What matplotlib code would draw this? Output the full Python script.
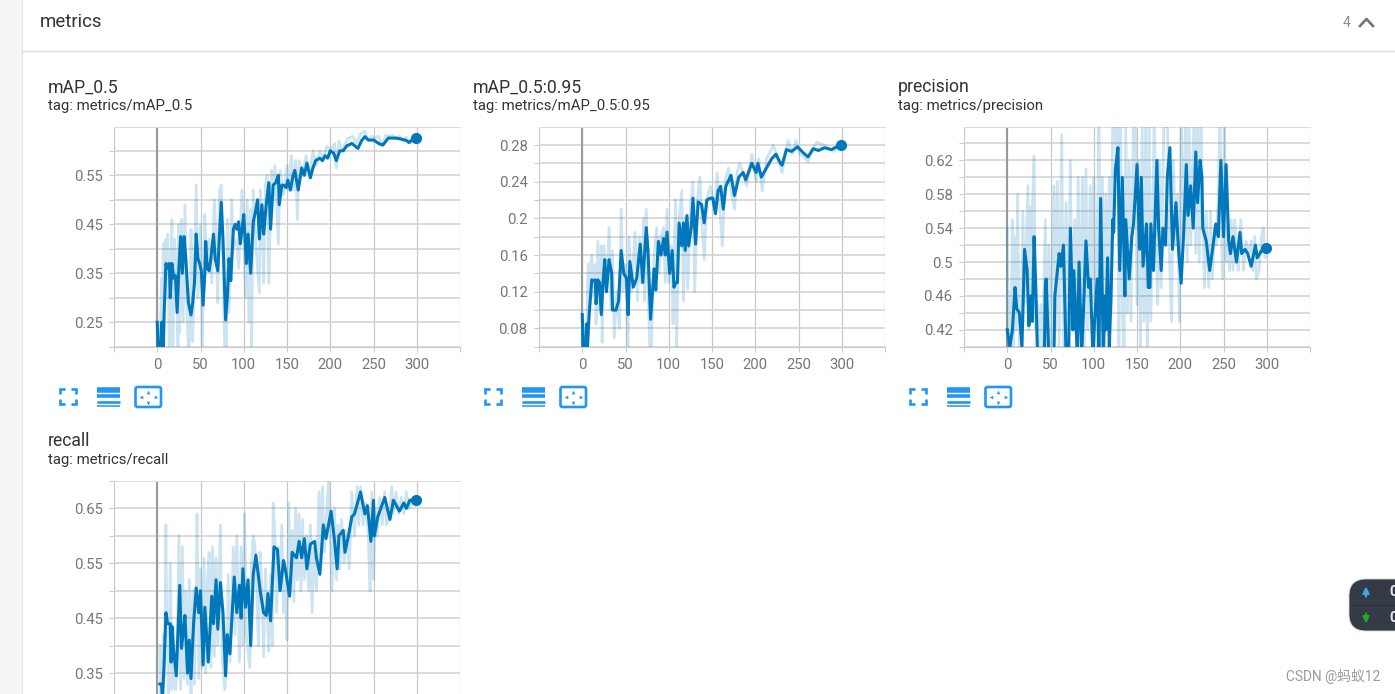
import matplotlib
matplotlib.use("Agg")
import matplotlib.pyplot as plt
from matplotlib.patches import FancyBboxPatch, Rectangle

plt.rcParams['font.family'] = ['Roboto', 'Noto Sans CJK SC', 'DejaVu Sans']

LINE = '#0077bb'
TEXT = '#333333'
W, H = 1395, 694

# metrics/mAP_0.5
map50_steps = [0,1,4,5,6,7,8,10,12,14,15,17,19,21,23,25,27,29,31,33,36,39,41,43,45,47,49,51,53,55,56,58,60,62,65,67,70,72,74,76,79,81,83,85,88,90,92,94,96,98,100,103,105,108,111,114,116,118,121,123,126,129,131,134,137,140,141,144,146,149,151,154,157,159,163,167,170,173,177,180,183,188,191,194,197,200,204,207,211,215,219,225,232,236,240,244,250,257,261,267,272,276,282,288,291,295,299]
map50_smooth = [.25,.195,.195,.25,.25,.195,.27,.37,.36,.37,.30,.37,.34,.345,.27,.36,.425,.35,.425,.38,.29,.265,.29,.33,.43,.38,.37,.355,.285,.35,.415,.36,.355,.38,.43,.38,.355,.43,.495,.42,.255,.30,.38,.335,.44,.45,.44,.455,.41,.44,.47,.37,.43,.35,.455,.48,.50,.42,.49,.43,.49,.535,.44,.53,.535,.55,.49,.53,.53,.525,.54,.52,.55,.56,.52,.565,.55,.575,.545,.565,.58,.585,.58,.59,.585,.60,.595,.58,.60,.60,.61,.615,.605,.62,.629,.622,.622,.614,.612,.626,.626,.626,.624,.621,.617,.623,.627]
map50_raw_steps = [0,1,3,5,6,7,8,9,10,11,12,14,16,17,18,20,22,24,25,26,28,30,32,34,36,38,39,41,43,45,47,50,52,55,57,60,63,66,68,70,72,74,76,78,80,81,83,86,88,92,94,98,100,102,104,106,108,109,111,114,118,119,121,123,125,127,129,132,134,136,140,142,146,150,152,155,158,160,162,164,168,172,176,180,184,188,192,196,200,205,207,210,214,220,226,230,235,240,244,248,252,256,260,264,268,272,276,280,284,288,292,296,299]
map50_raw = [.25,.19,.19,.34,.19,.41,.30,.41,.42,.30,.43,.19,.40,.46,.19,.42,.36,.19,.45,.23,.46,.25,.49,.30,.19,.22,.44,.21,.36,.53,.30,.45,.19,.47,.38,.42,.33,.50,.42,.29,.52,.53,.38,.19,.19,.46,.27,.50,.40,.42,.36,.52,.42,.30,.50,.25,.48,.19,.52,.41,.31,.52,.46,.33,.53,.55,.33,.56,.50,.57,.41,.56,.51,.57,.52,.59,.52,.58,.46,.58,.55,.59,.55,.60,.57,.60,.585,.61,.60,.615,.565,.62,.60,.625,.63,.615,.635,.64,.62,.63,.625,.63,.61,.632,.63,.632,.625,.63,.62,.628,.615,.628,.628]

# metrics/mAP_0.5:0.95
map95_steps = [0,1,4,5,6,8,11,13,15,16,18,20,22,24,26,28,31,34,35,39,42,45,48,51,53,55,59,63,67,70,74,76,79,83,85,88,91,94,96,98,101,104,106,108,110,112,115,117,119,121,123,126,128,131,134,138,141,144,148,151,154,157,160,163,166,172,176,181,186,189,196,201,203,207,213,219,224,228,231,236,242,249,255,261,267,273,280,288,294,299]
map95_smooth = [.095,.06,.06,.085,.06,.095,.133,.132,.133,.107,.133,.13,.095,.13,.155,.12,.155,.14,.10,.10,.11,.165,.14,.135,.095,.153,.125,.135,.172,.13,.19,.165,.09,.145,.122,.175,.16,.178,.16,.185,.14,.165,.125,.13,.13,.195,.17,.195,.165,.203,.17,.19,.222,.172,.218,.215,.195,.22,.222,.222,.205,.23,.235,.21,.235,.247,.225,.245,.25,.242,.26,.25,.26,.245,.255,.265,.27,.262,.258,.275,.273,.278,.272,.267,.276,.274,.277,.275,.278,.2795]
map95_raw_steps = [0,1,3,4,5,6,7,8,9,11,13,15,16,18,20,22,23,25,28,31,33,35,37,40,43,45,47,50,53,54,57,61,64,66,68,71,72,74,76,78,80,83,86,89,91,94,96,98,100,103,105,106,108,109,112,115,117,119,122,125,128,130,133,136,138,141,144,148,153,156,159,162,165,169,172,176,179,182,186,190,196,201,204,208,213,221,226,231,238,243,247,251,255,261,266,271,280,290,299]
map95_raw = [.095,.06,.06,.085,.06,.12,.15,.10,.145,.16,.115,.15,.085,.175,.10,.17,.065,.17,.12,.19,.10,.165,.07,.12,.08,.21,.12,.15,.06,.18,.12,.185,.11,.18,.13,.20,.11,.21,.13,.06,.06,.16,.19,.14,.18,.19,.13,.21,.13,.17,.085,.16,.22,.06,.20,.23,.11,.20,.123,.21,.24,.12,.22,.245,.20,.155,.22,.235,.21,.25,.21,.17,.24,.255,.23,.21,.25,.26,.25,.235,.27,.24,.265,.23,.265,.28,.265,.25,.285,.27,.285,.27,.268,.262,.275,.283,.28,.273,.28]

# metrics/precision
prec_steps = [0,3,6,9,11,14,17,20,23,25,27,29,31,33,35,38,41,43,44,45,48,51,54,55,58,60,62,65,68,71,73,76,77,81,83,86,88,91,94,96,99,101,104,106,108,111,113,114,116,118,120,122,123,125,128,130,133,136,137,141,144,146,150,153,155,157,161,163,165,166,169,173,175,178,180,183,185,188,191,195,198,201,204,207,209,212,215,218,220,223,225,226,230,234,238,241,244,247,250,253,256,258,261,265,269,271,275,278,282,287,289,295,299]
prec_smooth = [.42,.40,.42,.47,.445,.44,.40,.515,.49,.425,.46,.43,.53,.47,.39,.39,.39,.40,.47,.48,.39,.39,.39,.46,.49,.51,.495,.52,.39,.39,.54,.42,.49,.39,.50,.39,.44,.525,.47,.48,.39,.43,.48,.39,.575,.39,.46,.42,.505,.40,.46,.55,.535,.61,.635,.49,.60,.46,.55,.48,.53,.545,.615,.515,.60,.495,.545,.47,.47,.545,.49,.62,.54,.49,.54,.52,.60,.635,.515,.57,.515,.475,.535,.615,.555,.59,.54,.63,.57,.62,.60,.54,.525,.49,.52,.545,.53,.62,.53,.615,.525,.51,.53,.50,.535,.51,.515,.51,.495,.52,.505,.515,.517]
prec_raw_steps = [0,1,3,4,6,7,9,10,12,14,16,18,20,22,24,25,27,28,29,31,33,35,37,39,41,44,46,48,50,54,56,58,60,63,65,68,70,73,75,78,80,82,84,87,89,91,93,96,98,100,102,105,106,108,110,112,114,116,118,120,122,124,126,128,129,131,133,135,137,139,141,143,146,148,150,152,154,156,158,160,162,164,166,170,172,174,176,178,181,183,185,187,190,192,195,197,199,201,203,206,208,210,212,214,216,218,220,222,224,226,228,230,233,235,237,240,242,244,246,248,249,251,253,255,257,259,261,263,265,267,270,273,276,279,282,284,286,288,291,294,296,298,299]
prec_raw = [.54,.40,.465,.40,.55,.40,.53,.42,.58,.40,.40,.56,.45,.52,.59,.42,.565,.43,.56,.625,.42,.45,.40,.45,.40,.55,.38,.52,.40,.59,.42,.595,.40,.65,.40,.57,.40,.62,.42,.55,.40,.60,.42,.60,.40,.61,.42,.59,.45,.60,.40,.59,.68,.42,.60,.40,.58,.45,.60,.44,.68,.68,.62,.68,.38,.68,.45,.38,.66,.44,.62,.43,.68,.68,.45,.62,.40,.66,.43,.66,.38,.67,.43,.68,.52,.45,.62,.47,.66,.68,.68,.52,.43,.62,.52,.58,.43,.68,.53,.67,.50,.68,.52,.60,.68,.51,.68,.50,.68,.56,.47,.56,.47,.56,.48,.54,.52,.58,.68,.52,.48,.68,.50,.55,.49,.55,.49,.55,.51,.49,.55,.49,.525,.51,.525,.49,.53,.48,.49,.53,.54,.505,.52]

# metrics/recall
recall_steps = [3,5,6,8,10,12,15,16,17,19,22,26,28,32,33,35,37,39,42,45,48,50,53,55,59,63,65,68,70,73,76,79,81,84,89,92,95,97,99,102,105,108,111,114,119,123,126,128,131,135,139,142,146,148,153,156,161,164,167,170,173,177,182,184,188,192,195,201,205,208,210,215,217,221,225,228,235,240,243,247,250,251,255,263,269,273,280,285,288,292,299]
recall_smooth = [.33,.33,.30,.37,.46,.44,.44,.37,.435,.39,.345,.51,.395,.455,.42,.35,.41,.34,.44,.505,.46,.50,.365,.47,.37,.49,.44,.52,.43,.515,.46,.345,.42,.385,.525,.46,.51,.45,.54,.47,.52,.40,.53,.565,.50,.46,.455,.495,.445,.58,.575,.50,.555,.54,.49,.57,.56,.59,.56,.595,.54,.585,.59,.56,.53,.62,.595,.645,.59,.54,.60,.61,.57,.60,.635,.64,.68,.64,.655,.59,.665,.60,.635,.67,.63,.665,.645,.66,.65,.665,.665]
recall_raw_steps = [3,4,5,6,7,8,9,10,11,12,13,15,17,19,21,23,25,27,29,31,33,35,37,39,41,43,45,46,48,50,52,54,56,58,60,62,64,66,68,70,73,75,78,80,82,84,88,90,92,95,97,99,101,103,107,109,111,113,115,117,119,121,123,125,127,129,131,133,134,136,138,140,142,144,146,148,150,152,154,156,158,160,162,164,166,168,170,173,175,177,179,181,184,187,189,191,193,195,198,200,202,205,207,209,211,213,216,218,222,225,228,231,233,235,238,241,244,246,248,250,252,254,257,260,263,265,268,271,273,276,279,282,285,288,291,294,296,299]
recall_raw = [.40,.295,.40,.295,.42,.34,.43,.62,.42,.40,.295,.55,.32,.43,.32,.36,.60,.32,.58,.34,.50,.33,.52,.295,.50,.33,.51,.64,.34,.54,.36,.56,.35,.52,.57,.36,.58,.38,.56,.40,.62,.38,.32,.36,.53,.37,.58,.42,.60,.37,.58,.40,.64,.42,.36,.55,.60,.58,.50,.40,.57,.50,.38,.54,.47,.39,.53,.40,.66,.60,.46,.58,.50,.62,.46,.52,.41,.66,.50,.61,.48,.65,.52,.64,.50,.63,.52,.60,.50,.62,.46,.58,.50,.68,.56,.69,.57,.62,.70,.60,.50,.65,.52,.62,.54,.63,.55,.61,.54,.68,.60,.69,.62,.69,.62,.66,.60,.50,.68,.52,.65,.60,.67,.62,.68,.62,.63,.69,.64,.68,.64,.67,.64,.68,.65,.66,.67,.67]

x_ticks = [-50, 0, 50, 100, 150, 200, 250, 300, 350]
x_labels = ['', '0', '50', '100', '150', '200', '250', '300', '']
x_blank = [''] * 9  # the recall chart runs off the bottom of the page

fig = plt.figure(figsize=(W / 100, H / 100), dpi=100)

# page background, drawn in pixel coordinates
bg = fig.add_axes([0, 0, 1, 1])
bg.set_xlim(0, W)
bg.set_ylim(H, 0)
bg.axis('off')
bg.add_patch(Rectangle((0, 0), 22, H, color='#f5f5f5', lw=0))
bg.plot([22, 22], [0, H], color='#e6e6e6', lw=0.8)
bg.plot([22, W], [50.5, 50.5], color='#dcdcdc', lw=1)
bg.text(40, 22, 'metrics', fontsize=13.4, color=TEXT, va='center')
bg.text(1347, 23, '4', fontsize=10, color='#8a8a8a', ha='center', va='center')
bg.plot([1360, 1366.5, 1373], [26, 19, 26], color='#757575', lw=1.9)


def px_rect(left, top, right, bottom):
    return [left / W, 1 - bottom / H, (right - left) / W, (bottom - top) / H]


def chart(left, top, title, tag, ylim, yticks, ylabels, yminor,
          steps, smooth, raw_steps, raw, xlabels=x_labels):
    ax = fig.add_axes(px_rect(left, top, left + 346, top + 219.5))
    ax.patch.set_alpha(0)
    ax.plot(raw_steps, raw, color=LINE, alpha=0.2, lw=2.0, zorder=3)
    ax.plot(steps, smooth, color=LINE, lw=2.2, zorder=4)
    ax.plot(steps[-1:], smooth[-1:], 'o', color=LINE, ms=7, zorder=5)
    ax.set_xlim(-50, 350)
    ax.set_ylim(*ylim)
    ax.set_xticks(x_ticks)
    ax.set_xticklabels(xlabels)
    ax.set_yticks(yticks)
    ax.set_yticklabels(ylabels)
    ax.set_yticks(yminor, minor=True)
    ax.grid(True, axis='x', color='#c8c8c8', lw=0.9, zorder=1)
    ax.grid(True, axis='y', which='both', color='#d4d4d4', lw=1.2, zorder=1)
    ax.axvline(0, color='#999999', lw=1.5, zorder=2)
    for side in ['left', 'right']:
        ax.spines[side].set_visible(False)
    ax.spines['top'].set_color('#dddddd')
    ax.spines['bottom'].set_color('#cccccc')
    ax.tick_params(axis='both', which='both', length=3.6, width=0.8, color='#cccccc',
                   labelcolor='#767676', labelsize=10.7, pad=4.6)
    bg.text(left - 66, top - 40, title, fontsize=12.7, color=TEXT, va='center')
    bg.text(left - 66, top - 21, tag, fontsize=10.7, color=TEXT, va='center')


def buttons(dx):
    blue = '#2196f3'
    # fullscreen corners
    for cx, cy, sx, sy in [(60, 389, 1, 1), (76, 389, -1, 1), (60, 404, 1, -1), (76, 404, -1, -1)]:
        bg.plot([cx + dx + 5 * sx, cx + dx, cx + dx], [cy, cy, cy + 5 * sy],
                color=blue, lw=1.9, solid_capstyle='butt', solid_joinstyle='miter')
    # table icon
    for y, lw in [(389.5, 4.0), (396, 2.6), (401.5, 1.9), (406, 1.1)]:
        bg.plot([97 + dx, 119.5 + dx], [y, y], color=blue, lw=lw, solid_capstyle='butt')
    # fit domain icon
    bg.add_patch(FancyBboxPatch((135.5 + dx, 387), 25.5, 20, boxstyle='round,pad=0,rounding_size=2',
                                fc='white', ec=blue, lw=1.9))
    for px, py, mk in [(148 + dx, 391.5, '^'), (148 + dx, 402.5, 'v'),
                       (140.5 + dx, 397, '<'), (155.5 + dx, 397, '>')]:
        bg.plot([px], [py], marker=mk, ms=2.6, color=blue, mew=0)


chart(114, 127.3, 'mAP_0.5', 'tag: metrics/mAP_0.5', (0.20, 0.648),
      [.25, .35, .45, .55], ['0.25', '0.35', '0.45', '0.55'], [.2, .3, .4, .5, .6],
      map50_steps, map50_smooth, map50_raw_steps, map50_raw)
chart(539, 127.3, 'mAP_0.5:0.95', 'tag: metrics/mAP_0.5:0.95', (0.06, 0.2993),
      [.08, .12, .16, .2, .24, .28], ['0.08', '0.12', '0.16', '0.2', '0.24', '0.28'],
      [.06, .10, .14, .18, .22, .26],
      map95_steps, map95_smooth, map95_raw_steps, map95_raw)
chart(964, 127.3, 'precision', 'tag: metrics/precision', (0.40, 0.659),
      [.42, .46, .5, .54, .58, .62], ['0.42', '0.46', '0.5', '0.54', '0.58', '0.62'],
      [.40, .44, .48, .52, .56, .60, .64],
      prec_steps, prec_smooth, prec_raw_steps, prec_raw)
chart(114, 481, 'recall', 'tag: metrics/recall', (0.30, 0.70),
      [.35, .45, .55, .65], ['0.35', '0.45', '0.55', '0.65'], [.3, .4, .5, .6, .7],
      recall_steps, recall_smooth, recall_raw_steps, recall_raw, xlabels=x_blank)

for dx in [0, 425, 850]:
    buttons(dx)

# network speed badge and watermark, on top of the charts
top = fig.add_axes([0, 0, 1, 1])
top.set_xlim(0, W)
top.set_ylim(H, 0)
top.axis('off')
top.add_patch(FancyBboxPatch((1349, 579), 70, 52, boxstyle='round,pad=0,rounding_size=17',
                             fc='#343a46', ec='#d5d5d5', lw=0.6))
top.plot([1352, W], [605, 605], color='#2b303a', lw=0.8)
top.annotate('', xy=(1366, 586.5), xytext=(1366, 596.5),
             arrowprops=dict(arrowstyle='-|>', color='#3fa9e8', lw=1.6, mutation_scale=9, shrinkA=0, shrinkB=0))
top.annotate('', xy=(1366, 623.5), xytext=(1366, 613.5),
             arrowprops=dict(arrowstyle='-|>', color='#22a82e', lw=1.6, mutation_scale=9, shrinkA=0, shrinkB=0))
top.text(1389, 592, '0', fontsize=10.5, fontweight='bold', color='#e8e8e8', va='center')
top.text(1389, 618, '0', fontsize=10.5, fontweight='bold', color='#e8e8e8', va='center')
top.text(1380, 677, 'CSDN @蚂蚁12', fontsize=9.9, color='#9a9a9a', ha='right', va='center')

fig.savefig('out.png', dpi=100)
